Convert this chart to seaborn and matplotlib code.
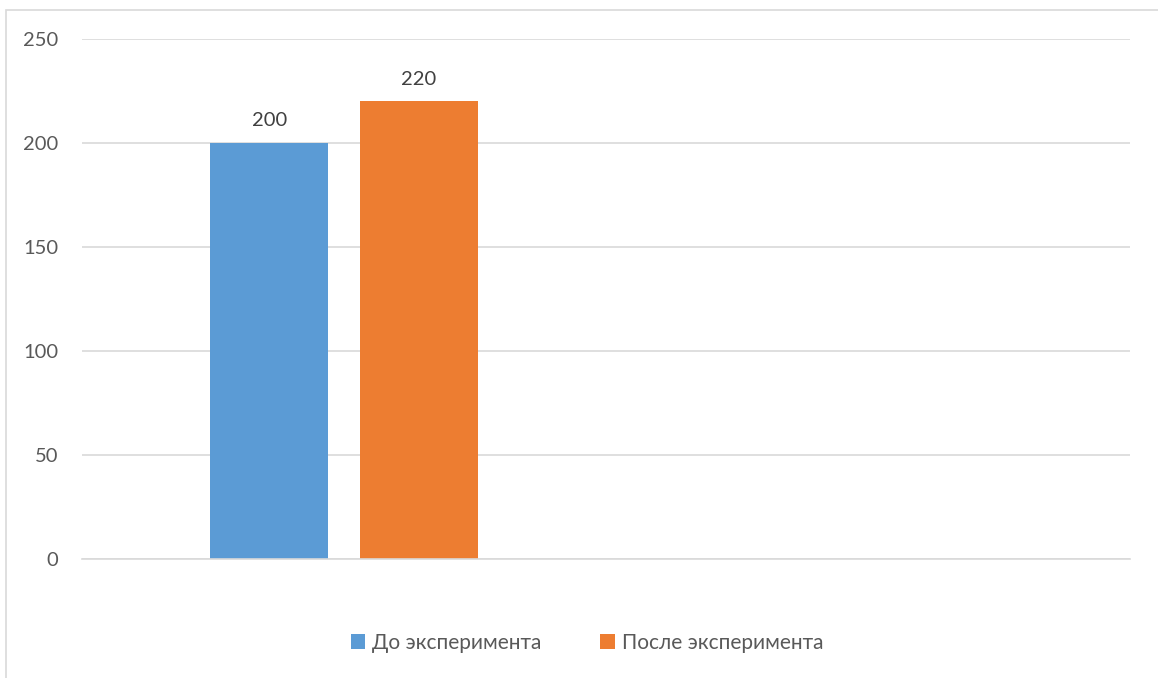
import matplotlib
matplotlib.use("Agg")
import matplotlib.pyplot as plt
from matplotlib.patches import Patch, Rectangle
import seaborn as sns
import pandas as pd
import numpy as np

categories = ["1", "2"]
series_names = ["До эксперимента", "После эксперимента"]
before_values = [200, np.nan]
after_values = [220, np.nan]
yticks = [0, 50, 100, 150, 200, 250]

colors = ["#5B9BD5", "#ED7D31"]

df = pd.DataFrame({
    "category": categories * 2,
    "series": [series_names[0]] * len(categories) + [series_names[1]] * len(categories),
    "value": before_values + after_values,
})

sns.set_theme(style="white")
plt.rcParams["font.family"] = ["Lato", "DejaVu Sans"]

fig = plt.figure(figsize=(11.58, 6.78), dpi=100)
ax = fig.add_axes([82 / 1158, 1 - 559 / 678, (1130 - 82) / 1158, (559 - 39) / 678])

sns.barplot(data=df, x="category", y="value", hue="series", order=categories,
            hue_order=series_names, palette=colors, width=0.569, gap=0.208,
            saturation=1, ax=ax, legend=False, errorbar=None, linewidth=0)

ax.set_xlim(-0.5, 1.5)
ax.set_ylim(0, 250)
ax.set_yticks(yticks)
ax.set_yticklabels([str(t) for t in yticks], fontsize=14.5, color="#595959")
ax.set_xticks([])
ax.set_xlabel("")
ax.set_ylabel("")
ax.tick_params(axis="y", length=0, pad=17)
ax.yaxis.grid(True, color="#d9d9d9", linewidth=1.2)
ax.set_axisbelow(True)
for s in ["top", "right", "left"]:
    ax.spines[s].set_visible(False)
ax.spines["bottom"].set_color("#d9d9d9")
ax.spines["bottom"].set_linewidth(1.2)

for cont in ax.containers:
    labels = ["" if np.isnan(b.get_height()) else f"{b.get_height():.0f}" for b in cont]
    ax.bar_label(cont, labels=labels, padding=10, fontsize=14.5, color="#404040")

handles = [Patch(facecolor=c, edgecolor="none", label=n) for c, n in zip(colors, series_names)]
leg = fig.legend(handles=handles, loc="center", bbox_to_anchor=(587 / 1158, 1 - 643 / 678),
                 ncol=2, frameon=False, fontsize=15, handlelength=0.7, handleheight=0.7,
                 handletextpad=0.35, columnspacing=2.8)
for t in leg.get_texts():
    t.set_color("#595959")

fig.patches.append(Rectangle((6 / 1158, -0.5), 2.0, 0.5 + (1 - 10 / 678),
                             transform=fig.transFigure, fill=False,
                             edgecolor="#d9d9d9", linewidth=1.2))

fig.savefig("out.png", dpi=100)
